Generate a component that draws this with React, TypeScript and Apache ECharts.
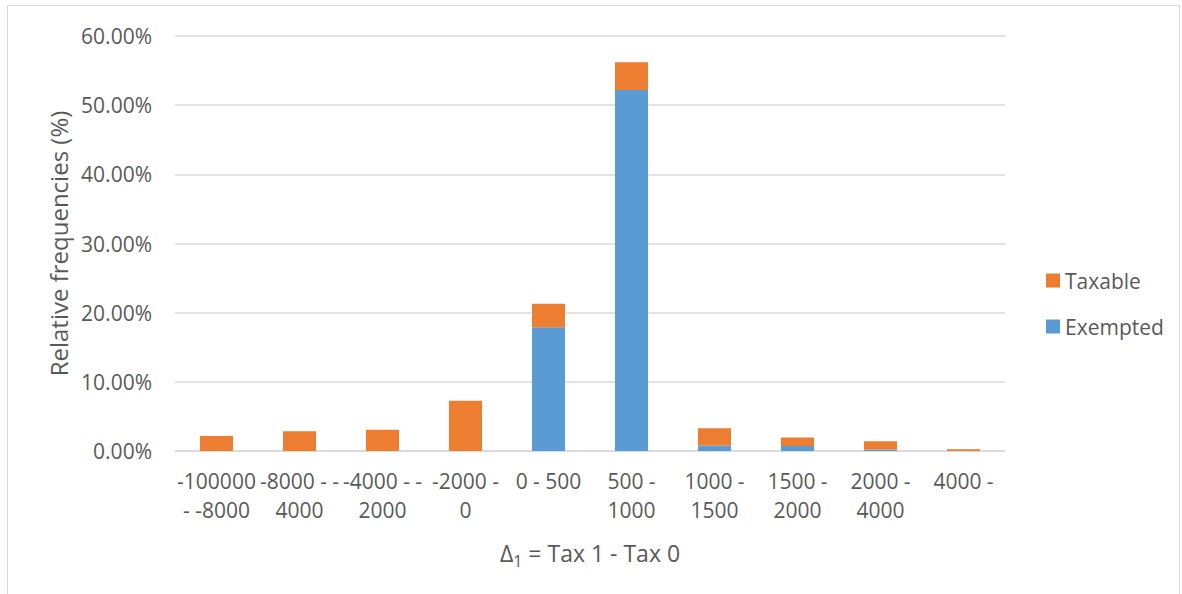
import React, { useEffect, useRef } from "react";
import * as echarts from "echarts";

const categories = [
  "-100000 - -8000",
  "-8000 - -4000",
  "-4000 - -2000",
  "-2000 - 0",
  "0 - 500",
  "500 - 1000",
  "1000 - 1500",
  "1500 - 2000",
  "2000 - 4000",
  "4000 -",
];
const tickLabels = [
  "-100000\n- -8000",
  "-8000 - -\n4000",
  "-4000 - -\n2000",
  "-2000 -\n0",
  "0 - 500",
  "500 -\n1000",
  "1000 -\n1500",
  "1500 -\n2000",
  "2000 -\n4000",
  "4000 -",
];
const exempted = [0, 0, 0, 0, 17.9, 52.2, 0.78, 0.72, 0.2, 0];
const taxable = [2.17, 2.85, 3.08, 7.27, 3.4, 4.0, 2.5, 1.22, 1.2, 0.25];
const yTicks = [0, 10, 20, 30, 40, 50, 60];

const FONT = "Open Sans";
const TEXT = "#595959";

export default function App() {
  const ref = useRef<HTMLDivElement>(null);
  useEffect(() => {
    const chart = echarts.init(ref.current!, null, { renderer: "svg" });
    chart.setOption({
      animation: false,
      backgroundColor: "#ffffff",
      textStyle: { fontFamily: FONT, color: TEXT },
      graphic: [
        {
          type: "rect",
          shape: { x: 7.5, y: 5.5, width: 1172, height: 620 },
          style: { fill: "none", stroke: "#d9d9d9", lineWidth: 1 },
          silent: true,
        },
      ],
      grid: { left: 175, right: 177, top: 36, bottom: 143 },
      legend: {
        orient: "vertical",
        left: 1046,
        top: 270,
        padding: 0,
        itemWidth: 14,
        itemHeight: 14,
        itemGap: 25,
        icon: "rect",
        data: ["Taxable", "Exempted"],
        textStyle: { fontFamily: FONT, fontSize: 21, color: TEXT, lineHeight: 20 },
      },
      xAxis: {
        type: "category",
        data: categories,
        axisLine: { lineStyle: { color: "#d9d9d9", width: 1.5 } },
        axisTick: { show: false },
        axisLabel: {
          interval: 0,
          margin: 15,
          fontFamily: FONT,
          fontSize: 21,
          lineHeight: 29,
          color: TEXT,
          formatter: (_v: string, i: number) => tickLabels[i],
        },
        name: "{d|Δ}{s|1}{d| = Tax 1 - Tax 0}",
        nameLocation: "middle",
        nameGap: 87,
        nameTextStyle: {
          fontFamily: FONT,
          fontSize: 23,
          color: TEXT,
          rich: {
            d: { fontFamily: FONT, fontSize: 23, color: TEXT, lineHeight: 26, verticalAlign: "bottom" },
            s: { fontFamily: FONT, fontSize: 16, color: TEXT, lineHeight: 26, verticalAlign: "bottom", padding: [0, 0, -5, 0] },
          },
        },
      },
      yAxis: {
        type: "value",
        min: 0,
        max: 60,
        interval: 10,
        axisLine: { show: false },
        axisTick: { show: false },
        splitLine: { lineStyle: { color: "#d9d9d9", width: 1.5 } },
        axisLabel: {
          margin: 23,
          fontFamily: FONT,
          fontSize: 21,
          color: TEXT,
          formatter: (v: number) => (yTicks.includes(v) ? v.toFixed(2) + "%" : ""),
        },
        name: "Relative frequencies (%)",
        nameLocation: "middle",
        nameGap: 103,
        nameTextStyle: { fontFamily: FONT, fontSize: 24, color: TEXT },
      },
      series: [
        {
          name: "Exempted",
          type: "bar",
          stack: "total",
          data: exempted,
          barWidth: 33,
          itemStyle: { color: "#5B9BD5" },
        },
        {
          name: "Taxable",
          type: "bar",
          stack: "total",
          data: taxable,
          barWidth: 33,
          itemStyle: { color: "#ED7D31" },
        },
      ],
    });
    return () => chart.dispose();
  }, []);
  return (
    <div
      ref={ref}
      style={{ position: "fixed", left: 0, top: 0, width: 1182, height: 594 }}
    />
  );
}
